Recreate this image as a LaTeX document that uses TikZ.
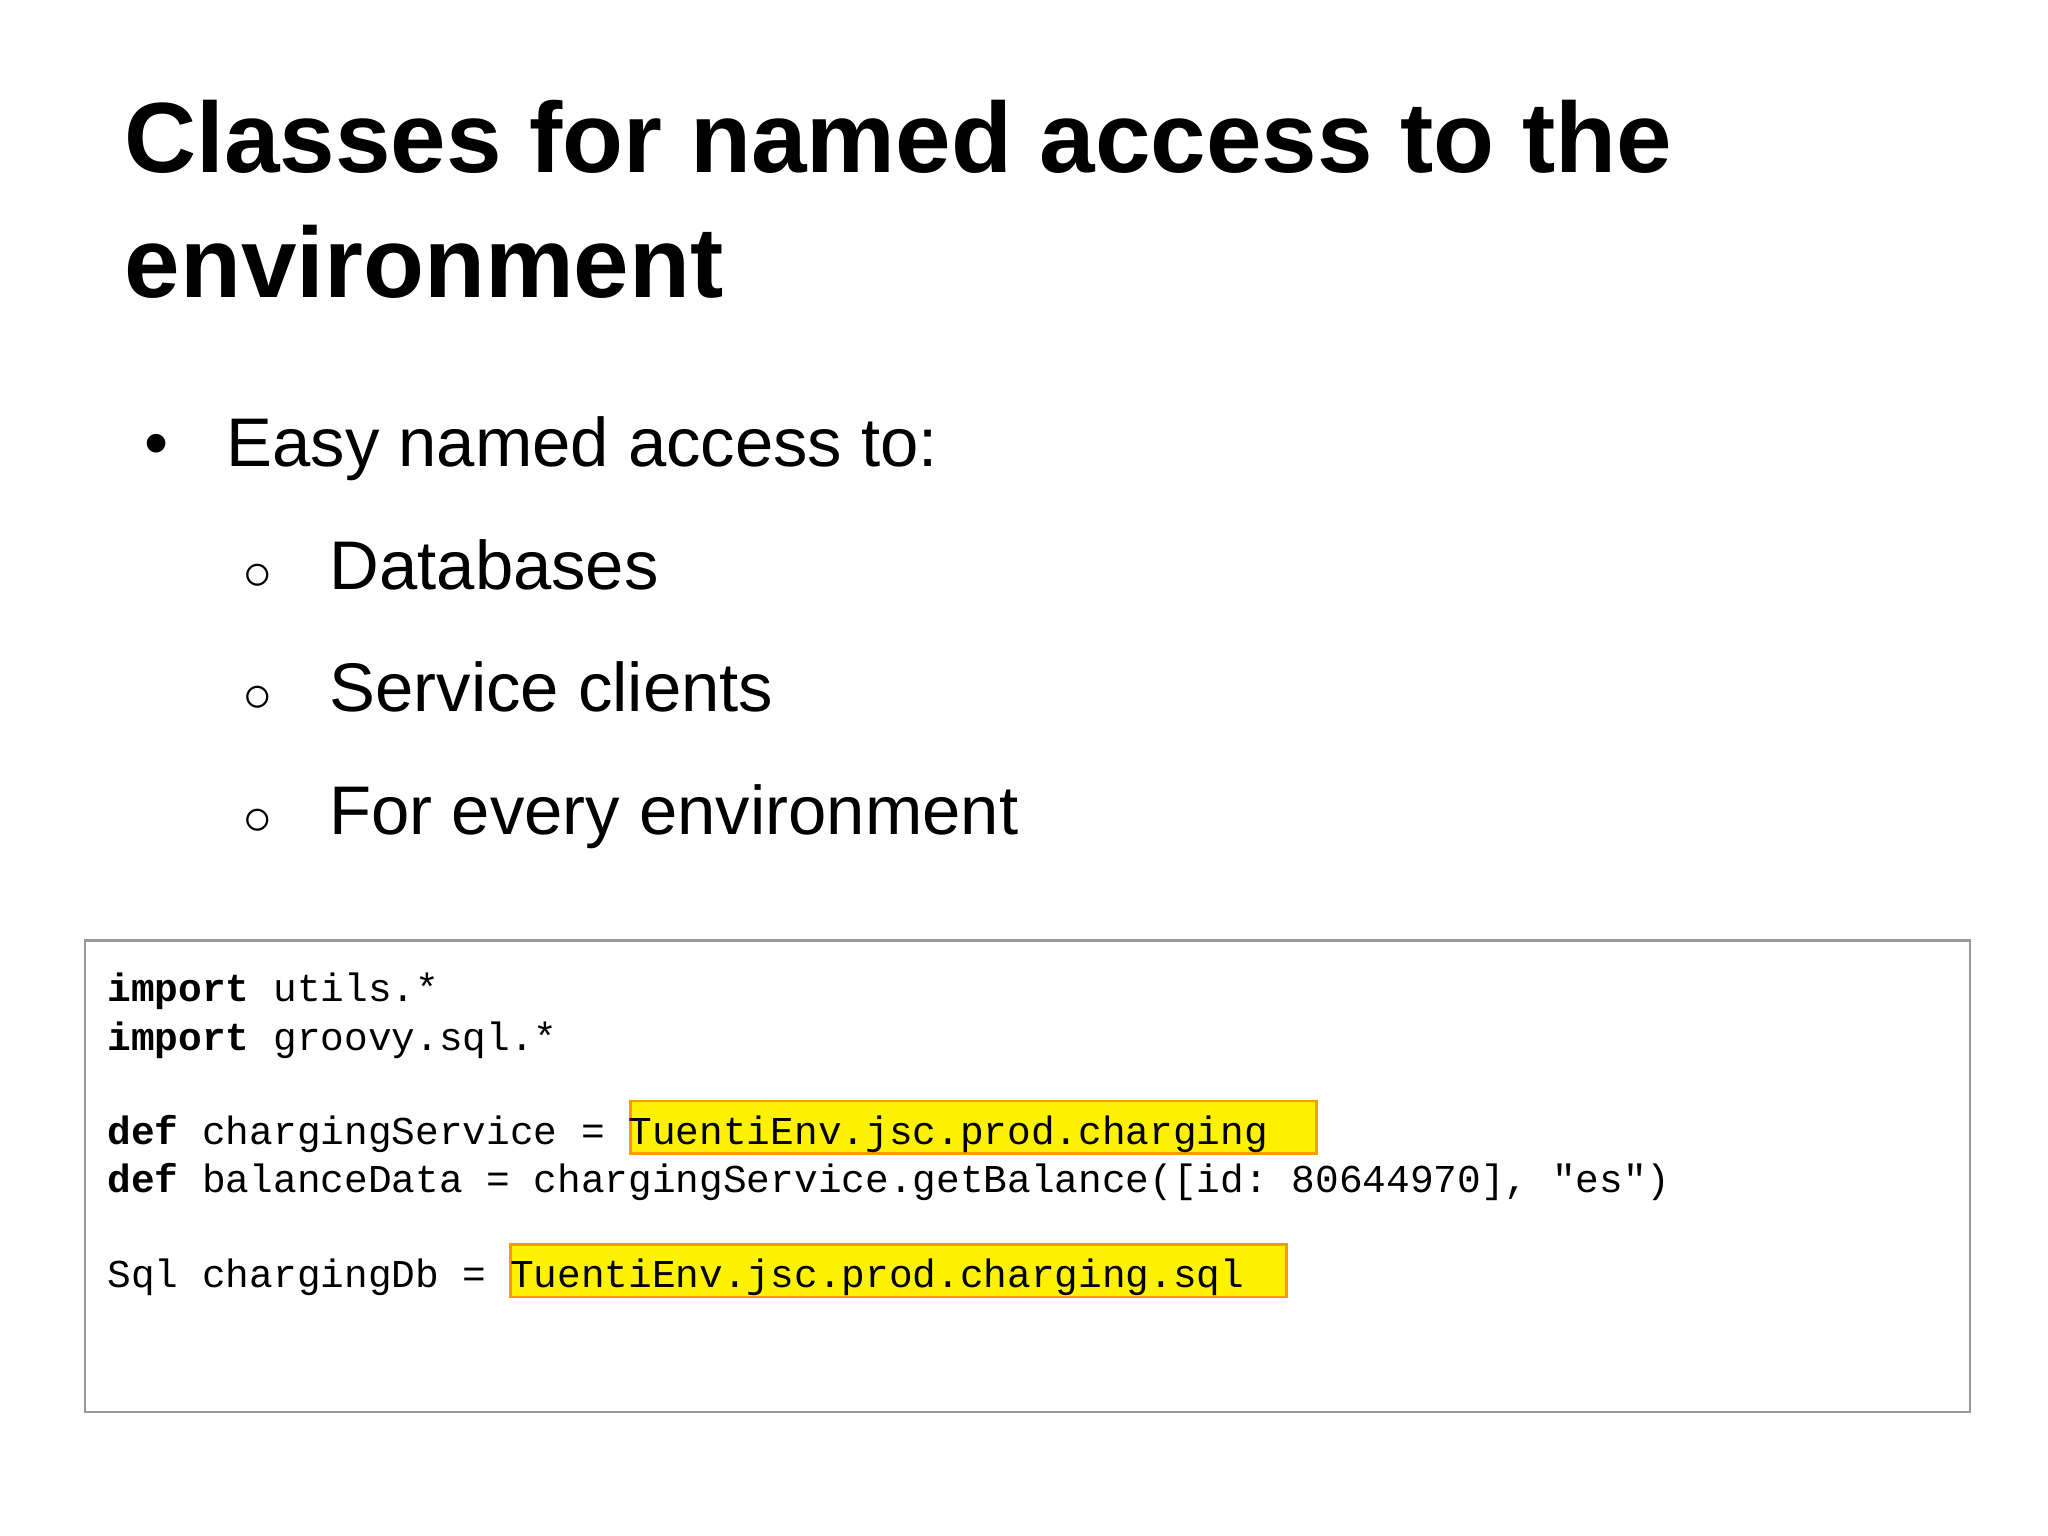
\documentclass[tikz,border=0pt]{standalone}
\usepackage{fontspec}
\setmainfont{Liberation Sans}
\setmonofont{Liberation Mono}
\begin{document}
\begin{tikzpicture}[x=0.02cm,y=-0.02cm,
  txt/.style={anchor=base west,inner sep=0pt},
  title/.style={txt,font=\fontsize{43.5pt}{50pt}\selectfont\bfseries},
  bul/.style={txt,font=\fontsize{30pt}{36pt}\selectfont},
  code/.style={txt,font=\fontsize{17.2pt}{20pt}\ttfamily},
  hl/.style={draw=orange!80!yellow,fill=yellow,line width=1.2pt}]
\useasboundingbox (0,0) rectangle (1568,1176);
\node[title] (t1) at (95,132) {Classes for named access to the};
\node[title] (t2) at (95,228) {environment};
\node[bul] (b0) at (110,357) {\textbullet};
\node[bul] (b1) at (173,357) {Easy named access to:};
\node[bul] (s1) at (186,451) {$\circ$};
\node[bul] (l1) at (252,451) {Databases};
\node[bul] (s2) at (186,545) {$\circ$};
\node[bul] (l2) at (252,545) {Service clients};
\node[bul] (s3) at (186,639) {$\circ$};
\node[bul] (l3) at (252,639) {For every environment};
\draw[gray!80,line width=1pt] (65,720) rectangle (1508,1081);
\draw[hl] (483,843) rectangle (1008,883);
\draw[hl] (391,953) rectangle (985,993);
\node[code] (c1) at (82,767) {\textbf{import} utils.*};
\node[code] (c2) at (82,804) {\textbf{import} groovy.sql.*};
\node[code] (c3) at (82,876) {\textbf{def} chargingService = TuentiEnv.jsc.prod.charging};
\node[code] (c4) at (82,913) {\textbf{def} balanceData = chargingService.getBalance([id: 80644970], "es")};
\node[code] (c5) at (82,986) {Sql chargingDb = TuentiEnv.jsc.prod.charging.sql};
\end{tikzpicture}
\end{document}
